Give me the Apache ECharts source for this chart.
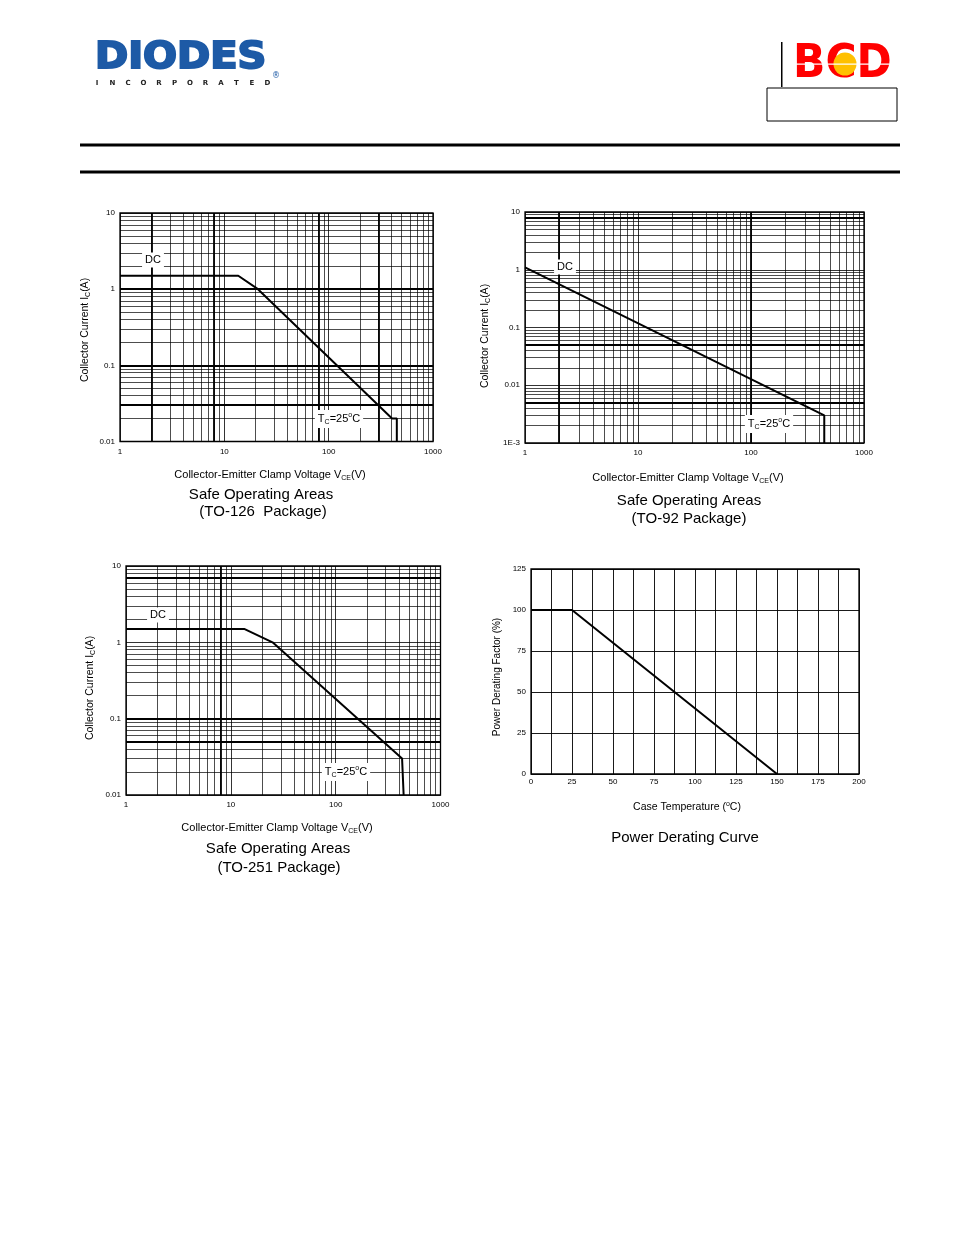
<!DOCTYPE html>
<html>
<head>
<meta charset="utf-8">
<script src="https://cdn.jsdelivr.net/npm/echarts@6/dist/echarts.min.js"></script>
<style>
html,body{margin:0;padding:0;background:#fff;}
#main{width:954px;height:1235px;}
</style>
</head>
<body>
<div id="main"></div>
<script>
// ---- data ----
// Safe Operating Area, TO-126 package
const to126V = [1, 13.6, 21, 405, 450, 450];
const to126I = [1.5, 1.5, 1.0, 0.02, 0.02, 0.01];
// Safe Operating Area, TO-92 package
const to92V = [1, 445, 445];
const to92I = [1.1, 0.003, 0.001];
// Safe Operating Area, TO-251 package
const to251V = [1, 13.4, 25, 430, 445, 445];
const to251I = [1.5, 1.5, 1.0, 0.03, 0.03, 0.01];
// Power derating curve
const derT = [0, 25, 150];
const derP = [100, 100, 0];
// emphasised (heavier) grid lines seen in the scanned graphs
const heavyX126 = [2, 8, 80, 300];
const heavyY126 = [1, 0.1, 0.03];
const heavyX92 = [2, 100];
const heavyY92 = [8, 0.05, 0.005];
const heavyX251 = [8];
const heavyY251 = [7, 0.1, 0.05];

const FONT = '"Liberation Sans", Arial, sans-serif';

function zip(a, b) { return a.map((v, i) => [v, b[i]]); }
function logMinor(minExp, maxExp) {
  const out = [];
  for (let e = minExp; e < maxExp; e++) {
    for (let m = 2; m <= 9; m++) out.push(+(m * Math.pow(10, e)).toPrecision(3));
  }
  return out;
}
function logLabel(v) {
  const e = Math.round(Math.log10(v));
  if (e <= -3) return '1E' + e;
  return String(+Math.pow(10, e).toFixed(Math.max(0, -e)));
}
function gridLines(minorX, minorY, heavyX, heavyY) {
  const d = [];
  minorX.forEach(v => d.push({ xAxis: v }));
  minorY.forEach(v => d.push({ yAxis: v }));
  heavyX.forEach(v => d.push({ xAxis: v, lineStyle: { width: 1.8, color: '#000' } }));
  heavyY.forEach(v => d.push({ yAxis: v, lineStyle: { width: 1.8, color: '#000' } }));
  return {
    silent: true, symbol: ['none', 'none'], animation: false, precision: 8,
    label: { show: false }, emphasis: { disabled: true },
    lineStyle: { color: '#000', width: 0.7, type: 'solid', opacity: 1 },
    data: d
  };
}

const grids = [
  { left: 120, top: 213, right: 521, bottom: 793.5 },
  { left: 525, top: 212, right: 90, bottom: 792 },
  { left: 126, top: 566, right: 513.5, bottom: 440 },
  { left: 531, top: 569, right: 95, bottom: 461 }
].map(g => Object.assign({ show: true, borderColor: '#000', borderWidth: 1.3, backgroundColor: '#fff' }, g));

const axisLabelBase = { color: '#000', fontFamily: FONT, fontSize: 8 };

function logX(idx) {
  return {
    type: 'log', logBase: 10, min: 1, max: 1000, gridIndex: idx, splitNumber: 3,
    axisLine: { show: false }, axisTick: { show: false },
    splitLine: { show: true, lineStyle: { color: '#000', width: 0.8 } },
    axisLabel: Object.assign({ margin: 6, formatter: logLabel }, axisLabelBase)
  };
}
function logY(idx, min, max, n) {
  return {
    type: 'log', logBase: 10, min: min, max: max, gridIndex: idx, splitNumber: n,
    axisLine: { show: false }, axisTick: { show: false },
    splitLine: { show: true, lineStyle: { color: '#000', width: 0.8 } },
    axisLabel: Object.assign({ margin: 5, formatter: logLabel }, axisLabelBase)
  };
}

const xAxes = [
  logX(0), logX(1), logX(2),
  {
    type: 'value', min: 0, max: 200, interval: 25, gridIndex: 3,
    axisLine: { show: false }, axisTick: { show: false },
    minorTick: { show: false, splitNumber: 2 },
    minorSplitLine: { show: true, lineStyle: { color: '#000', width: 0.9 } },
    splitLine: { show: true, lineStyle: { color: '#000', width: 0.9 } },
    axisLabel: Object.assign({ margin: 4 }, axisLabelBase)
  }
];
const yAxes = [
  logY(0, 0.01, 10, 3), logY(1, 0.001, 10, 4), logY(2, 0.01, 10, 3),
  {
    type: 'value', min: 0, max: 125, interval: 25, gridIndex: 3,
    axisLine: { show: false }, axisTick: { show: false },
    splitLine: { show: true, lineStyle: { color: '#000', width: 0.9 } },
    axisLabel: Object.assign({ margin: 5 }, axisLabelBase)
  }
];

const curveStyle = { color: '#000', width: 2 };
const series = [
  {
    type: 'line', xAxisIndex: 0, yAxisIndex: 0, data: zip(to126V, to126I), symbol: 'none',
    lineStyle: curveStyle, z: 5, animation: false,
    markLine: gridLines(logMinor(0, 3), logMinor(-2, 1), heavyX126, heavyY126)
  },
  {
    type: 'line', xAxisIndex: 1, yAxisIndex: 1, data: zip(to92V, to92I), symbol: 'none',
    lineStyle: curveStyle, z: 5, animation: false,
    markLine: gridLines(logMinor(0, 3), logMinor(-3, 1), heavyX92, heavyY92)
  },
  {
    type: 'line', xAxisIndex: 2, yAxisIndex: 2, data: zip(to251V, to251I), symbol: 'none',
    lineStyle: curveStyle, z: 5, animation: false,
    markLine: gridLines(logMinor(0, 3), logMinor(-2, 1), heavyX251, heavyY251)
  },
  {
    type: 'line', xAxisIndex: 3, yAxisIndex: 3, data: zip(derT, derP), symbol: 'none',
    lineStyle: curveStyle, z: 5, animation: false
  }
];

// ---- text / decoration ----
const sub = { fontSize: 7, fontFamily: FONT, color: '#000', padding: [6, 0, 0, 0] };
const sup = { fontSize: 7, fontFamily: FONT, color: '#000', padding: [0, 0, 6, 0] };
function txt(x, y, text, size, extra) {
  return {
    type: 'text', x: x, y: y, z: 100,
    style: Object.assign({ text: text, fill: '#000', font: size + 'px ' + FONT, align: 'center', verticalAlign: 'middle' }, extra || {})
  };
}
function richTxt(x, y, text, size, rot) {
  return {
    type: 'text', x: x, y: y, z: 100, rotation: rot || 0,
    style: {
      text: text, fill: '#000', align: 'center', verticalAlign: 'middle',
      font: size + 'px ' + FONT,
      rich: { n: { fontSize: size, fontFamily: FONT, color: '#000' }, s: sub, p: sup }
    }
  };
}
function boxLabel(x, y, text) {
  return {
    type: 'text', x: x, y: y, z: 100,
    style: {
      text: text, fill: '#000', align: 'center', verticalAlign: 'middle',
      font: '11px ' + FONT, backgroundColor: '#fff', padding: [2, 3, 2, 3],
      rich: {
        n: { fontSize: 11, fontFamily: FONT, color: '#000' },
        s: { fontSize: 7, fontFamily: FONT, color: '#000', padding: [7, 0, 0, 0] },
        p: { fontSize: 7, fontFamily: FONT, color: '#000', padding: [0, 0, 7, 0] }
      }
    }
  };
}
const tcText = '{n|T}{s|C}{n|=25}{p|o}{n|C}';
const vceText = '{n|Collector-Emitter Clamp Voltage V}{s|CE}{n|(V)}';
const icText = '{n|Collector Current I}{s|C}{n|(A)}';

const graphic = [
  // header rules
  { type: 'rect', shape: { x: 80, y: 143.5, width: 820, height: 3 }, style: { fill: '#000' } },
  { type: 'rect', shape: { x: 80, y: 170.5, width: 820, height: 3 }, style: { fill: '#000' } },
  // DIODES logo
  { type: 'text', x: 95, y: 58, scaleY: 0.92, style: { text: 'DIODES', fill: '#1d5aa6', stroke: '#1d5aa6', lineWidth: 2.2, font: 'bold 40px "DejaVu Sans", sans-serif', verticalAlign: 'middle' } },
  { type: 'text', x: 272, y: 76, style: { text: '®', fill: '#1d5aa6', font: '8px "DejaVu Sans", sans-serif', verticalAlign: 'middle' } },
  // BCD logo
  { type: 'rect', shape: { x: 781, y: 42, width: 1.5, height: 45 }, style: { fill: '#000' } },
  { type: 'text', x: 793, y: 65, scaleX: 0.85, scaleY: 0.92, style: { text: 'BCD', fill: '#ff0000', font: 'bold 50px "DejaVu Sans", sans-serif', verticalAlign: 'middle' } },
  { type: 'circle', shape: { cx: 845, cy: 64, r: 11.5 }, style: { fill: '#ffc000' } },
  { type: 'rect', shape: { x: 792, y: 63.5, width: 100, height: 1.2 }, style: { fill: '#fff' } },
  { type: 'rect', shape: { x: 767, y: 88, width: 130, height: 33 }, style: { fill: 'none', stroke: '#000', lineWidth: 1 } },

  // chart 1 texts
  richTxt(85, 330, icText, 10.5, Math.PI / 2),
  richTxt(270, 475, vceText, 11),
  txt(261, 495, 'Safe Operating Areas', 15),
  txt(263, 512, '(TO-126  Package)', 15),
  boxLabel(153, 260, '{n|DC}'),
  boxLabel(339, 419, tcText),

  // chart 2 texts
  richTxt(485, 336, icText, 10.5, Math.PI / 2),
  richTxt(688, 478, vceText, 11),
  txt(689, 501, 'Safe Operating Areas', 15),
  txt(689, 519, '(TO-92 Package)', 15),
  boxLabel(565, 267, '{n|DC}'),
  boxLabel(769, 424, tcText),

  // chart 3 texts
  richTxt(90, 688, icText, 10.5, Math.PI / 2),
  richTxt(277, 828, vceText, 11),
  txt(278, 849, 'Safe Operating Areas', 15),
  txt(279, 868, '(TO-251 Package)', 15),
  boxLabel(158, 615, '{n|DC}'),
  boxLabel(346, 772, tcText),

  // chart 4 texts
  Object.assign(txt(497, 677, 'Power Derating Factor (%)', 10), { rotation: Math.PI / 2 }),
  richTxt(687, 807, '{n|Case Temperature (}{p|o}{n|C)}', 10.5),
  txt(685, 838, 'Power Derating Curve', 15)
];
// "INCORPORATED" under the DIODES logo, widely letter-spaced
'INCORPORATED'.split('').forEach((ch, i) => {
  graphic.push({ type: 'text', x: 97 + i * 15.5, y: 83, style: { text: ch, fill: '#222', font: 'bold 7px "DejaVu Sans", sans-serif', align: 'center', verticalAlign: 'middle' } });
});

const chart = echarts.init(document.getElementById('main'), null, { renderer: 'canvas' });
chart.setOption({
  animation: false,
  backgroundColor: '#fff',
  grid: grids,
  xAxis: xAxes,
  yAxis: yAxes,
  series: series,
  graphic: graphic
});
</script>
</body>
</html>
